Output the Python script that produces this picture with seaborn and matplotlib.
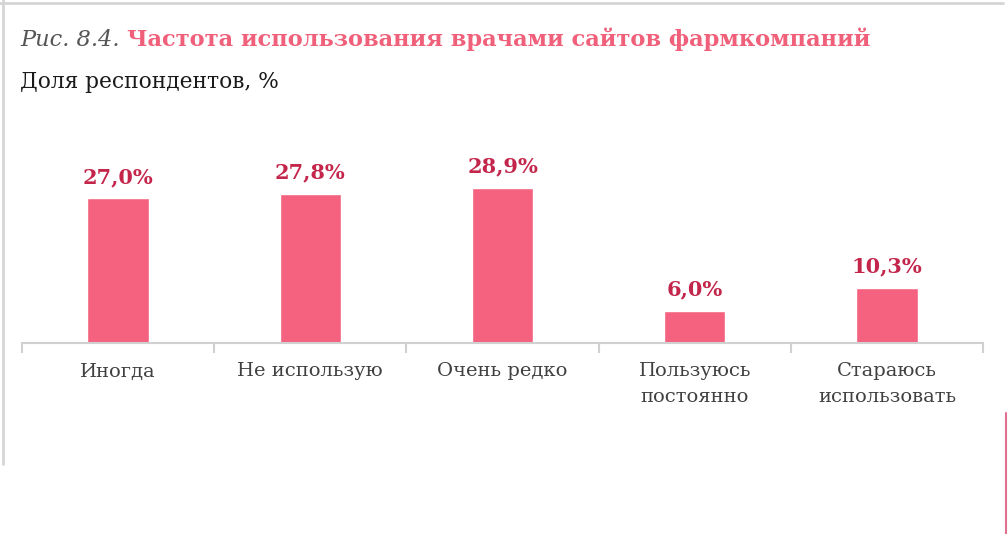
import numpy as np
import pandas as pd
import matplotlib.pyplot as plt
import seaborn as sns
from matplotlib.lines import Line2D

categories = ['Иногда', 'Не использую', 'Очень редко', 'Пользуюсь\nпостоянно', 'Стараюсь\nиспользовать']
shares = [27.0, 27.8, 28.9, 6.0, 10.3]
value_labels = ['27,0%', '27,8%', '28,9%', '6,0%', '10,3%']

bar_color = '#F4627F'
label_color = '#C4264B'
title_color = '#F0607A'

sns.set_theme(style="white")
plt.rcParams['font.family'] = ['DejaVu Serif']

df = pd.DataFrame({'cat': categories, 'share': shares})

fig = plt.figure(figsize=(10.08, 5.34), dpi=100)
ax = fig.add_axes([22/1008, (534-343)/534, (983-22)/1008, 213/534])

sns.barplot(data=df, x='cat', y='share', color=bar_color, width=0.32, ax=ax, saturation=1)
ax.set_ylim(0, 213/5.37)
ax.set_xlim(-0.5, len(categories) - 0.5)

for i, (v, t) in enumerate(zip(shares, value_labels)):
    ax.annotate(t, (i, v), xytext=(0, 8), textcoords='offset points', ha='center', va='bottom',
                fontsize=15, fontweight='bold', color=label_color)

for s in ['top', 'left', 'right']:
    ax.spines[s].set_visible(False)
ax.spines['bottom'].set_color('#D0D0D0')
ax.spines['bottom'].set_linewidth(1.5)
ax.set_yticks([])
ax.set_xlabel('')
ax.set_ylabel('')
ax.set_xticks(np.arange(-0.5, len(categories)), minor=True)
ax.tick_params(axis='x', which='major', bottom=False, length=0, pad=14, labelsize=14, labelcolor='#404040')
ax.tick_params(axis='x', which='minor', bottom=True, length=7, width=1.5, color='#D0D0D0', direction='out')
for lbl in ax.get_xticklabels():
    lbl.set_linespacing(1.55)

# title and subtitle
t1 = fig.text(20/1008, 1 - 46/534, 'Рис. 8.4. ', fontsize=16.2, style='italic', color='#555555', va='baseline')
fig.canvas.draw()
bb = t1.get_window_extent()
fig.text(bb.x1 / 1008, 1 - 46/534, 'Частота использования врачами сайтов фармкомпаний', fontsize=16.2,
         fontweight='bold', color=title_color, va='baseline')
fig.text(20/1008, 1 - 88/534, 'Доля респондентов, %', fontsize=15.7, color='#1A1A1A', va='baseline')

# frame decoration
fig.add_artist(Line2D([0, 1003/1008], [1 - 3/534, 1 - 3/534], color='#D5D5D5', lw=2, transform=fig.transFigure))
fig.add_artist(Line2D([3/1008, 3/1008], [1, 1 - 464/534], color='#D5D5D5', lw=2, transform=fig.transFigure))
fig.add_artist(Line2D([1006/1008, 1006/1008], [1 - 413/534, 0], color='#E07090', lw=1.5, transform=fig.transFigure))

plt.savefig('out.png', dpi=100)
